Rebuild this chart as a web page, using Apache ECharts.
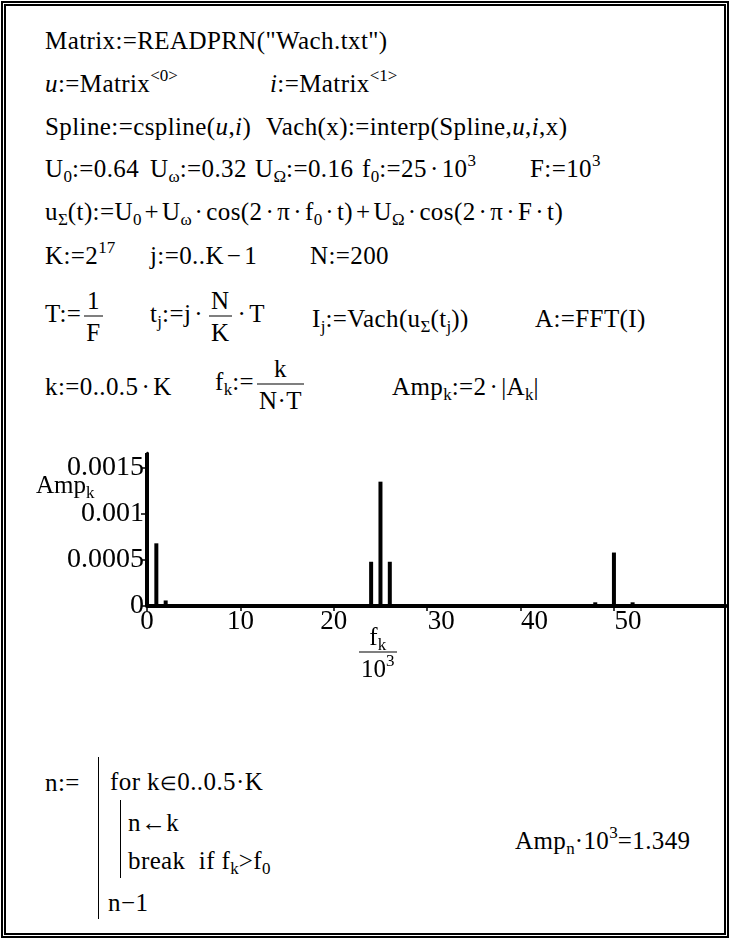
<!DOCTYPE html>
<html>
<head>
<meta charset="utf-8">
<script src="https://cdn.jsdelivr.net/npm/echarts@6/dist/echarts.min.js"></script>
<style>
body{margin:0;background:#fff;width:730px;height:939px;position:relative;overflow:hidden}
#frame{position:absolute;left:1px;top:1px;width:718px;height:927px;border:5px double #000}
.t{position:absolute;font-family:"Liberation Serif","Times New Roman",serif;font-size:25px;line-height:25px;letter-spacing:0.4px;white-space:nowrap;color:#000;transform:translateY(-50%)}
.t sub{font-size:17px;vertical-align:-5px;line-height:0;letter-spacing:0}
.t sup{font-size:17px;vertical-align:11px;line-height:0;letter-spacing:0}
.t b{font-weight:normal;margin:0 3px}
.t small{font-size:19px}
.fr{display:inline-block;vertical-align:middle;text-align:center;margin:0 3px}
.fr span{display:block;line-height:31px;padding:0 2px}
.fr span.d{border-top:1.5px solid #000}
#chart{position:absolute;left:0;top:430px;width:730px;height:230px}
.br{position:absolute;border-left:1.5px solid #000}
</style>
</head>
<body>
<div id="frame"></div>

<div class="t" style="left:45px;top:40px">Matrix:=READPRN("Wach.txt")</div>
<div class="t" style="left:45px;top:83px"><i>u</i>:=Matrix<sup>&lt;0&gt;</sup></div>
<div class="t" style="left:270px;top:83px"><i>i</i>:=Matrix<sup>&lt;1&gt;</sup></div>
<div class="t" style="left:45px;top:126px">Spline:=cspline(<i>u</i>,<i>i</i>)</div>
<div class="t" style="left:266px;top:126px">Vach(x):=interp(Spline,<i>u</i>,<i>i</i>,x)</div>
<div class="t" style="left:45px;top:168px">U<sub>0</sub>:=0.64</div>
<div class="t" style="left:150px;top:168px">U<sub>ω</sub>:=0.32</div>
<div class="t" style="left:255px;top:168px">U<sub>Ω</sub>:=0.16</div>
<div class="t" style="left:362px;top:168px">f<sub>0</sub>:=25<b>·</b>10<sup>3</sup></div>
<div class="t" style="left:530px;top:168px">F:=10<sup>3</sup></div>
<div class="t" style="left:45px;top:211px">u<sub>Σ</sub>(t):=U<sub>0</sub><b>+</b>U<sub>ω</sub><b>·</b>cos(2<b>·</b>π<b>·</b>f<sub>0</sub><b>·</b>t)<b>+</b>U<sub>Ω</sub><b>·</b>cos(2<b>·</b>π<b>·</b>F<b>·</b>t)</div>
<div class="t" style="left:45px;top:255px">K:=2<sup>17</sup></div>
<div class="t" style="left:150px;top:255px">j:=0..K<b>−</b>1</div>
<div class="t" style="left:310px;top:255px">N:=200</div>
<div class="t" style="left:45px;top:316px">T:=<span class="fr"><span>1</span><span class="d">F</span></span></div>
<div class="t" style="left:150px;top:316px">t<sub>j</sub>:=j<b>·</b><span class="fr"><span>N</span><span class="d">K</span></span><b>·</b>T</div>
<div class="t" style="left:312px;top:318px">I<sub>j</sub>:=Vach(u<sub>Σ</sub>(t<sub>j</sub>))</div>
<div class="t" style="left:535px;top:318px">A:=FFT(I)</div>
<div class="t" style="left:45px;top:386px">k:=0..0.5<b>·</b>K</div>
<div class="t" style="left:215px;top:384px">f<sub>k</sub>:=<span class="fr"><span>k</span><span class="d">N·T</span></span></div>
<div class="t" style="left:392px;top:386px">Amp<sub>k</sub>:=2<b>·</b>|A<sub>k</sub>|</div>

<div id="chart"></div>
<div class="t" style="left:36px;top:484px;letter-spacing:0">Amp<sub>k</sub></div>
<div class="t" style="left:356px;top:652px;letter-spacing:0"><span class="fr"><span>f<sub>k</sub></span><span class="d">10<sup>3</sup></span></span></div>

<div class="t" style="left:45px;top:782px">n:=</div>
<div class="br" style="left:98px;top:757px;height:162px"></div>
<div class="t" style="left:110px;top:782px">for k<small>∈</small>0..0.5·K</div>
<div class="br" style="left:120px;top:800px;height:78px"></div>
<div class="t" style="left:128px;top:822px">n←k</div>
<div class="t" style="left:128px;top:860px">break&nbsp; if f<sub>k</sub>&gt;f<sub>0</sub></div>
<div class="t" style="left:108px;top:902px">n−1</div>
<div class="t" style="left:515px;top:840px">Amp<sub>n</sub>·10<sup>3</sup>=1.349</div>

<script>
// spectrum lines (kHz, amplitude)
var freqs = [0, 1, 2, 22, 23, 24, 25, 26, 27, 28, 48, 49, 50, 51, 52];
var amps = [0.00166, 0.00068, 0.00006, 0.00001, 0.00002, 0.00048, 0.001349, 0.00048, 0.00002, 0.00001, 0.00004, 0.00002, 0.00058, 0.00002, 0.00004];
var xTicks = [0, 10, 20, 30, 40, 50];
var yTicks = ['0', '0.0005', '0.001', '0.0015'];

var myChart = echarts.init(document.getElementById('chart'));
var pts = [];
for (var i = 0; i < freqs.length; i++) {
    pts.push([freqs[i], amps[i]]);
}
var font = '"Liberation Serif", "Times New Roman", serif';
var option = {
    animation: false,
    grid: {left: 147, right: 4, top: 23, bottom: 54},
    xAxis: {
        type: 'value', min: 0, max: 62, interval: 10,
        splitLine: {show: false},
        axisLine: {onZero: false, lineStyle: {color: '#000', width: 4}},
        axisTick: {show: true, length: 5, customValues: xTicks, lineStyle: {color: '#000', width: 1.5}},
        axisLabel: {
            color: '#000', fontFamily: font, fontSize: 27, margin: 2,
            customValues: xTicks,
            // the labels right of the f_k/10^3 caption sit a little to the right
            formatter: function (v) { return v >= 30 ? '{r|' + v + '}' : String(v); },
            rich: {r: {fontFamily: font, fontSize: 27, color: '#000', padding: [0, 0, 0, 28]}}
        }
    },
    yAxis: {
        type: 'value', min: 0, max: 0.00166, interval: 0.0005,
        splitLine: {show: false},
        axisLine: {show: true, lineStyle: {color: '#000', width: 2.5}},
        axisTick: {show: true, length: 6, lineStyle: {color: '#000', width: 1.5}},
        axisLabel: {
            color: '#000', fontFamily: font, fontSize: 28, margin: 3, showMaxLabel: false,
            formatter: function (v) { return yTicks[Math.round(v / 0.0005)] || ''; }
        }
    },
    series: [{
        type: 'bar',
        data: pts,
        barWidth: 4,
        itemStyle: {color: '#000'}
    }]
};
myChart.setOption(option);
</script>
</body>
</html>
